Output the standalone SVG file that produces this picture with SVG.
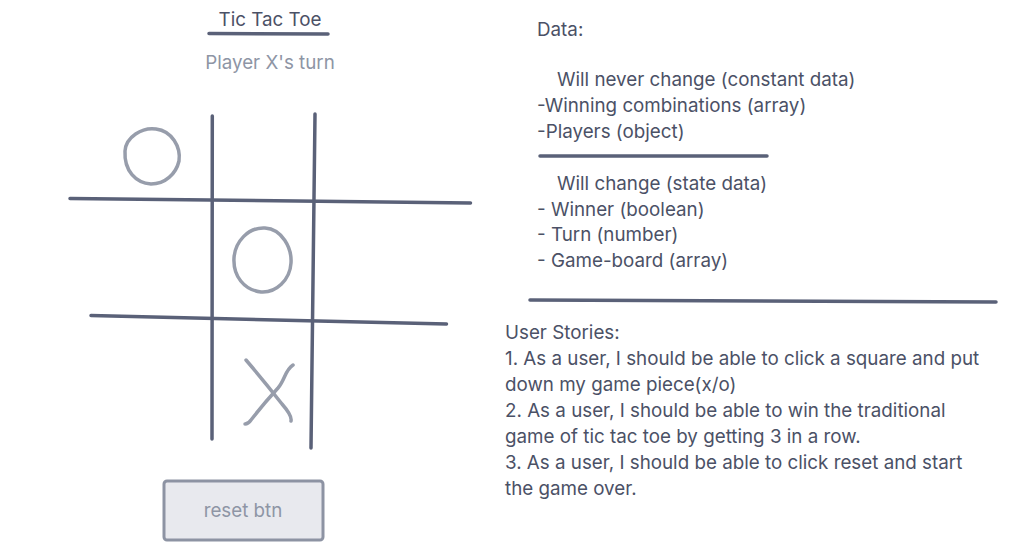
<svg xmlns="http://www.w3.org/2000/svg" width="1024" height="548" viewBox="0 0 1024 548">
<style>
.t{font-family:Inter,"Liberation Sans",Arial,sans-serif;font-size:18.8px;fill:#4b5166}
.g{font-family:Inter,"Liberation Sans",Arial,sans-serif;font-size:18.8px;fill:#8e95a5}
.ln{stroke:#5a6178;stroke-width:3.5;stroke-linecap:round;fill:none}
.pc{stroke:#979dab;stroke-width:3.5;stroke-linecap:round;fill:none}
</style>
<rect width="1024" height="548" fill="#ffffff"/>
<g id="title">
<text class="t" x="270" y="26" text-anchor="middle">Tic Tac Toe</text>
<line class="ln" x1="209" y1="33.5" x2="328" y2="34"/>
</g>
<g id="status">
<text class="g" x="270" y="69" text-anchor="middle">Player X's turn</text>
</g>
<g id="board">
<path class="ln" d="M212.3 116 L212 439"/>
<path class="ln" d="M315 114 L311 448"/>
<path class="ln" d="M70 198.5 L470.5 203"/>
<path class="ln" d="M91 315.5 L446.5 324"/>
</g>
<g id="pieces">
<path class="pc" d="M125 151 C126 137 142 127 156 129 C172 131 181 147 179 161 C176 174 165 184 151 184 C136 183 124 171 125 151 Z"/>
<path class="pc" d="M234 258 C235 242 248 227 265 228 C282 229 292 248 291 263 C290 280 276 293 261 292 C244 290 233 276 234 258 Z"/>
<path class="pc" d="M246 360 C258 374 271 390 282 404 C289 412 292 417 291 421"/>
<path class="pc" d="M293 365 C285 370 285 380 278 388 C267 400 258 411 251 420 C249 423 247 424 245 424"/>
</g>
<g id="reset">
<rect x="164" y="481" width="159" height="59" rx="3" fill="#e8e9ee" stroke="#8d93a3" stroke-width="3"/>
<text class="g" x="243" y="517" text-anchor="middle">reset btn</text>
</g>
<g id="data">
<text class="t" x="537" y="36">Data:</text>
<text class="t" x="557" y="86">Will never change (constant data)</text>
<text class="t" x="537" y="112">-Winning combinations (array)</text>
<text class="t" x="537" y="138">-Players (object)</text>
<line class="ln" x1="540" y1="156" x2="767" y2="156"/>
<text class="t" x="557" y="190">Will change (state data)</text>
<text class="t" x="537" y="216">- Winner (boolean)</text>
<text class="t" x="537" y="241">- Turn (number)</text>
<text class="t" x="537" y="267">- Game-board (array)</text>
<line class="ln" x1="530" y1="300" x2="996" y2="302"/>
</g>
<g id="stories">
<text class="t" x="505" y="339">User Stories:</text>
<text class="t" x="505" y="365">1. As a user, I should be able to click a square and put</text>
<text class="t" x="505" y="391">down my game piece(x/o)</text>
<text class="t" x="505" y="417">2. As a user, I should be able to win the traditional</text>
<text class="t" x="505" y="443">game of tic tac toe by getting 3 in a row.</text>
<text class="t" x="505" y="469">3. As a user, I should be able to click reset and start</text>
<text class="t" x="505" y="495">the game over.</text>
</g>
</svg>
